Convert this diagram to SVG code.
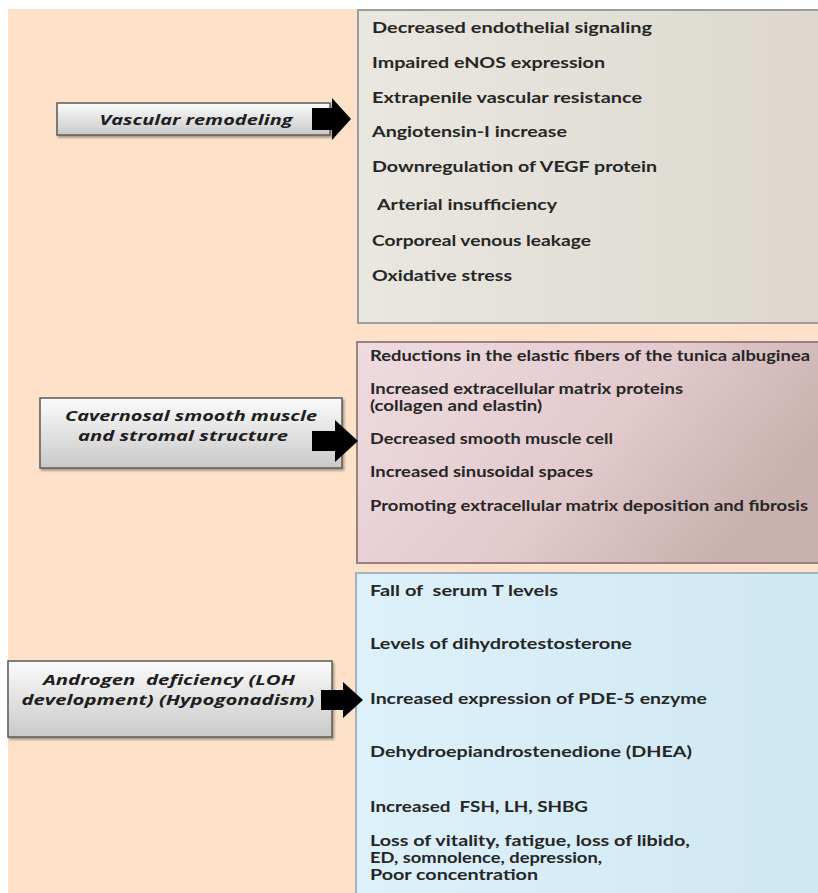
<svg xmlns="http://www.w3.org/2000/svg" width="818" height="893" viewBox="0 0 818 893">
<defs>
<linearGradient id="gBox" x1="0" y1="0" x2="0" y2="1">
<stop offset="0" stop-color="#fbfbfb"/>
<stop offset="1" stop-color="#c9c9c9"/>
</linearGradient>
<linearGradient id="gP1" x1="0" y1="0" x2="1" y2="0">
<stop offset="0" stop-color="#e9e7e0"/>
<stop offset="1" stop-color="#dcd8d0"/>
</linearGradient>
<linearGradient id="gP2" x1="0" y1="0" x2="1" y2="0.4">
<stop offset="0" stop-color="#efdce0"/>
<stop offset="0.6" stop-color="#e2cacd"/>
<stop offset="1" stop-color="#c8b1ae"/>
</linearGradient>
<linearGradient id="gP3" x1="0" y1="0" x2="1" y2="0">
<stop offset="0" stop-color="#ddf1fa"/>
<stop offset="1" stop-color="#cfe7f2"/>
</linearGradient>
<filter id="sh" x="-5%" y="-5%" width="115%" height="130%">
<feDropShadow dx="1.5" dy="2" stdDeviation="1.2" flood-color="#000" flood-opacity="0.35"/>
</filter>
</defs>
<style>
.item{font-family:Lato,"Open Sans","Liberation Sans",sans-serif;font-weight:bold;fill:#262626;white-space:pre}
.p1{font-size:16px}
.p2{font-size:14.5px}
.p3{font-size:16px}
.p3s{font-size:15px}
.lbl{font-family:"Open Sans",Lato,"Liberation Sans",sans-serif;font-weight:bold;font-style:italic;font-size:14px;fill:#1e1e1e;text-anchor:middle;white-space:pre}
.box{fill:url(#gBox);stroke:#5a5a5a;stroke-width:1.5}
.arrow{fill:#000}
</style>
<rect x="0" y="0" width="818" height="893" fill="#ffffff"/>
<rect x="8" y="9" width="810" height="884" fill="#fde2c9"/>

<g id="panel-vascular">
<rect x="358" y="10" width="470" height="313" fill="url(#gP1)" stroke="#9d9d9d" stroke-width="2"/>
<text class="item p1" x="372" y="33" textLength="280" lengthAdjust="spacingAndGlyphs">Decreased endothelial signaling</text>
<text class="item p1" x="372" y="68" textLength="233" lengthAdjust="spacingAndGlyphs">Impaired eNOS expression</text>
<text class="item p1" x="372" y="103" textLength="270" lengthAdjust="spacingAndGlyphs">Extrapenile vascular resistance</text>
<text class="item p1" x="372" y="137" textLength="195" lengthAdjust="spacingAndGlyphs">Angiotensin-I increase</text>
<text class="item p1" x="372" y="172" textLength="285" lengthAdjust="spacingAndGlyphs">Downregulation of VEGF protein</text>
<text class="item p1" x="377" y="210" textLength="180" lengthAdjust="spacingAndGlyphs">Arterial insufficiency</text>
<text class="item p1" x="372" y="246" textLength="219" lengthAdjust="spacingAndGlyphs">Corporeal venous leakage</text>
<text class="item p1" x="372" y="281" textLength="140" lengthAdjust="spacingAndGlyphs">Oxidative stress</text>
</g>

<g id="panel-cavernosal">
<rect x="357" y="342" width="470" height="221" fill="url(#gP2)" stroke="#9a7f86" stroke-width="2"/>
<text class="item p2" x="370" y="361" textLength="440" lengthAdjust="spacingAndGlyphs">Reductions in the elastic fibers of the tunica albuginea</text>
<text class="item p2" x="370" y="394" textLength="313" lengthAdjust="spacingAndGlyphs">Increased extracellular matrix proteins</text>
<text class="item p2" x="370" y="411" textLength="172" lengthAdjust="spacingAndGlyphs">(collagen and elastin)</text>
<text class="item p2" x="370" y="444" textLength="243" lengthAdjust="spacingAndGlyphs">Decreased smooth muscle cell</text>
<text class="item p2" x="370" y="477" textLength="223" lengthAdjust="spacingAndGlyphs">Increased sinusoidal spaces</text>
<text class="item p2" x="370" y="511" textLength="438" lengthAdjust="spacingAndGlyphs">Promoting extracellular matrix deposition and fibrosis</text>
</g>

<g id="panel-androgen">
<rect x="356" y="573" width="470" height="330" fill="url(#gP3)" stroke="#a4b4bc" stroke-width="2"/>
<text class="item p3" x="370" y="596" textLength="188" lengthAdjust="spacingAndGlyphs">Fall of  serum T levels</text>
<text class="item p3" x="370" y="649" textLength="262" lengthAdjust="spacingAndGlyphs">Levels of dihydrotestosterone</text>
<text class="item p3" x="370" y="704" textLength="337" lengthAdjust="spacingAndGlyphs">Increased expression of PDE-5 enzyme</text>
<text class="item p3" x="370" y="757" textLength="322" lengthAdjust="spacingAndGlyphs">Dehydroepiandrostenedione (DHEA)</text>
<text class="item p3" x="370" y="812" textLength="218" lengthAdjust="spacingAndGlyphs">Increased  FSH, LH, SHBG</text>
<text class="item p3s" x="370" y="846" textLength="320" lengthAdjust="spacingAndGlyphs">Loss of vitality, fatigue, loss of libido,</text>
<text class="item p3s" x="370" y="863" textLength="232" lengthAdjust="spacingAndGlyphs">ED, somnolence, depression,</text>
<text class="item p3s" x="370" y="880" textLength="168" lengthAdjust="spacingAndGlyphs">Poor concentration</text>
</g>

<g id="node-vascular">
<rect class="box" x="57" y="103" width="273" height="32" filter="url(#sh)"/>
<text class="lbl" x="196" y="125" textLength="193" lengthAdjust="spacingAndGlyphs">Vascular remodeling</text>
</g>

<g id="node-cavernosal">
<rect class="box" x="40" y="398" width="302" height="70" filter="url(#sh)"/>
<text class="lbl" x="191" y="421" textLength="252" lengthAdjust="spacingAndGlyphs">Cavernosal smooth muscle</text>
<text class="lbl" x="183" y="441" textLength="210" lengthAdjust="spacingAndGlyphs">and stromal structure</text>
</g>

<g id="node-androgen">
<rect class="box" x="8" y="661" width="324" height="76" filter="url(#sh)"/>
<text class="lbl" x="169" y="685" textLength="252" lengthAdjust="spacingAndGlyphs">Androgen  deficiency (LOH</text>
<text class="lbl" x="168" y="705" textLength="293" lengthAdjust="spacingAndGlyphs">development) (Hypogonadism)</text>
</g>

<g id="connectors">
<path class="arrow" d="M312 108 H332 V98 L351 119 L332 140 V130 H312 Z"/>
<path class="arrow" d="M312 431 H335 V420 L358 441 L335 462 V451 H312 Z"/>
<path class="arrow" d="M321 690 H343 V682 L363 700 L343 718 V710 H321 Z"/>
</g>
</svg>
